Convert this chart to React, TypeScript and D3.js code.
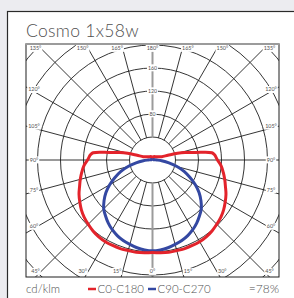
import * as d3 from 'd3';
import * as React from 'react';

const titleText = 'Cosmo 1x58w';
const unitText = 'cd/klm';
const seriesNames = ['C0-C180', 'C90-C270'];
const efficiencyText = '=78%';

// gamma angle in degrees, 0 = straight down, 180 = straight up
const gammaDeg = [0, 5, 10, 15, 20, 25, 30, 35, 40, 45, 50, 55, 60, 65, 70, 75, 80, 85, 90,
    95, 97, 100, 103, 105, 107, 110, 120, 135, 150, 165, 180];
// cd/klm, C0-C180 plane
const c0c180 = [161, 162, 163, 163, 164, 164, 164, 163, 161, 158, 155, 151, 146, 141, 135, 130, 125, 120, 113,
    108, 104, 76, 58, 45, 28, 17, 11, 8, 7, 6, 6];
// cd/klm, C90-C270 plane
const c90c270 = [158, 157, 155, 152, 149, 145, 140, 134, 127, 120, 110, 99, 86, 72, 59, 44, 29, 16, 8,
    5, 4, 3, 3, 2, 2, 2, 2, 2, 2, 2, 2];

const ringValues = [40, 80, 120, 160, 200, 240, 280, 320];
const ringLabels = [80, 120, 160];
const angleTicks = [0, 15, 30, 45, 60, 75, 90, 105, 120, 135, 150, 165, 180];

const seriesColors = ['#e3232b', '#3448a2'];
const gridColor = '#1e1e1e';
const axisGray = '#9b9b9b';
const textGray = '#505050';
const font = 'Lato, "DejaVu Sans", sans-serif';

const width = 294;
const height = 298;
const plot = { left: 26, right: 279, top: 44, bottom: 277 };

/**
 * Draw the photometric polar diagram into the svg
 */
function draw(node: SVGSVGElement) {
    const svg = d3.select(node);
    svg.selectAll('*').remove();

    const cx = (plot.left + plot.right) / 2;
    const cy = 160;
    const r = d3.scaleLinear().domain([0, 40]).range([0, 23]);
    const rad = (deg: number) => deg * Math.PI / 180;

    svg.append('rect').attr('width', width).attr('height', height).attr('fill', '#ececf0');
    svg.append('rect')
        .attr('x', 7.5).attr('y', 11.5).attr('width', 320).attr('height', 320)
        .attr('fill', '#fff').attr('stroke', '#2a2a2a').attr('stroke-width', 1.2);

    svg.append('text')
        .attr('x', plot.left).attr('y', 36.5)
        .attr('font-family', font).attr('font-weight', 300).attr('font-size', 17.5)
        .attr('letter-spacing', 0.3)
        .attr('fill', textGray)
        .text(titleText);

    svg.append('defs').append('clipPath').attr('id', 'plot-clip')
        .append('rect')
        .attr('x', plot.left).attr('y', plot.top)
        .attr('width', plot.right - plot.left).attr('height', plot.bottom - plot.top);

    const g = svg.append('g').attr('clip-path', 'url(#plot-clip)')
        .append('g').attr('transform', `translate(${cx},${cy})`);

    // rings
    g.selectAll('circle.ring').data(ringValues).join('circle')
        .attr('class', 'ring')
        .attr('r', d => r(d))
        .attr('fill', 'none').attr('stroke', gridColor).attr('stroke-width', 0.9);

    // spokes every 15 degrees, starting at the inner ring
    const spokes = d3.range(0, 360, 15);
    const r0 = r(ringValues[0]);
    const r1 = r(400);
    g.selectAll('line.spoke').data(spokes).join('line')
        .attr('class', 'spoke')
        .attr('x1', d => r0 * Math.sin(rad(d))).attr('y1', d => r0 * Math.cos(rad(d)))
        .attr('x2', d => r1 * Math.sin(rad(d))).attr('y2', d => r1 * Math.cos(rad(d)))
        .attr('stroke', d => (d % 180 === 0 ? axisGray : gridColor))
        .attr('stroke-width', d => (d % 180 === 0 ? 2 : 0.9));

    // curves
    const toPoints = (vals: number[]): [number, number][] => {
        const left = gammaDeg.map((gm, i) => [Math.PI + rad(gm), r(vals[i])] as [number, number]).reverse();
        const right = gammaDeg.slice(1).map((gm, i) => [Math.PI - rad(gm), r(vals[i + 1])] as [number, number]);
        return left.concat(right);
    };
    const line = d3.lineRadial<[number, number]>()
        .angle(d => d[0]).radius(d => d[1])
        .curve(d3.curveCatmullRom.alpha(0.5));
    [c90c270, c0c180].forEach((vals, i) => {
        g.append('path')
            .attr('d', line(toPoints(vals)))
            .attr('fill', 'none')
            .attr('stroke', seriesColors[1 - i])
            .attr('stroke-width', 3)
            .attr('stroke-linejoin', 'round');
    });

    // label with a white box behind it
    const label = (parent: any, x: number, y: number, txt: string, size: number) => {
        const lg = parent.append('g');
        const t = lg.append('text')
            .attr('x', x).attr('y', y).attr('dy', '0.35em')
            .attr('text-anchor', 'middle')
            .attr('font-family', font).attr('font-size', size)
            .attr('fill', textGray)
            .text(txt);
        const bb = (t.node() as SVGTextElement).getBBox();
        lg.insert('rect', 'text')
            .attr('x', bb.x - 1).attr('y', bb.y - 0.5)
            .attr('width', bb.width + 2).attr('height', bb.height + 1)
            .attr('fill', '#fff');
    };

    ringLabels.forEach(v => label(g, 0, -r(v), String(v), 5.2));

    // angle labels along the frame
    const hx = (plot.right - plot.left) / 2 - 8;
    const hyTop = cy - plot.top - 4.5;
    const hyBot = plot.bottom - cy - 5.5;
    angleTicks.forEach(a => {
        const sides = a === 0 || a === 180 ? [1] : [-1, 1];
        sides.forEach(s => {
            const dx = s * Math.sin(rad(a));
            const dy = Math.cos(rad(a));
            const hy = dy < 0 ? hyTop : hyBot;
            const tx = Math.abs(dx) > 1e-9 ? hx / Math.abs(dx) : Infinity;
            const ty = Math.abs(dy) > 1e-9 ? hy / Math.abs(dy) : Infinity;
            let x = 0;
            let y = 0;
            if (ty <= tx) {
                x = dx * ty + (Math.abs(dx) > 1e-9 ? Math.sign(dx) * 5.5 : 0);
                y = dy * ty;
            } else {
                x = dx * tx;
                y = dy * tx - (a === 90 ? 0 : 2);
            }
            label(g, x, y, `${a}°`, 5.4);
        });
    });

    // frame
    svg.append('rect')
        .attr('x', plot.left).attr('y', plot.top)
        .attr('width', plot.right - plot.left).attr('height', plot.bottom - plot.top)
        .attr('fill', 'none').attr('stroke', gridColor).attr('stroke-width', 1);
    svg.append('line')
        .attr('x1', plot.left - 0.5).attr('x2', plot.right + 0.5)
        .attr('y1', plot.top).attr('y2', plot.top)
        .attr('stroke', axisGray).attr('stroke-width', 2);

    // legend row
    const legendY = 293;
    svg.append('text')
        .attr('x', plot.left).attr('y', legendY)
        .attr('font-family', font).attr('font-weight', 300).attr('font-size', 11.5).attr('fill', textGray)
        .text(unitText);
    const legendX = [88, 148];
    seriesNames.forEach((name, i) => {
        svg.append('line')
            .attr('x1', legendX[i]).attr('x2', legendX[i] + 8)
            .attr('y1', legendY - 4).attr('y2', legendY - 4)
            .attr('stroke', seriesColors[i]).attr('stroke-width', 2.5);
        svg.append('text')
            .attr('x', legendX[i] + 9.5).attr('y', legendY)
            .attr('font-family', font).attr('font-weight', 300).attr('font-size', 11.5).attr('fill', textGray)
            .text(name);
    });
    svg.append('text')
        .attr('x', plot.right).attr('y', legendY)
        .attr('text-anchor', 'end')
        .attr('font-family', font).attr('font-weight', 300).attr('font-size', 12).attr('fill', textGray)
        .text(efficiencyText);
}

/**
 * Polar light distribution chart
 */
export default function App() {
    const svgRef = React.useRef<SVGSVGElement | null>(null);

    React.useEffect(() => {
        if (!svgRef.current) return;
        draw(svgRef.current);
    }, []);

    return (
        <svg
            ref={svgRef}
            width={width}
            height={height}
            style={{ position: 'absolute', left: 0, top: 0, display: 'block' }}
        />
    );
}
